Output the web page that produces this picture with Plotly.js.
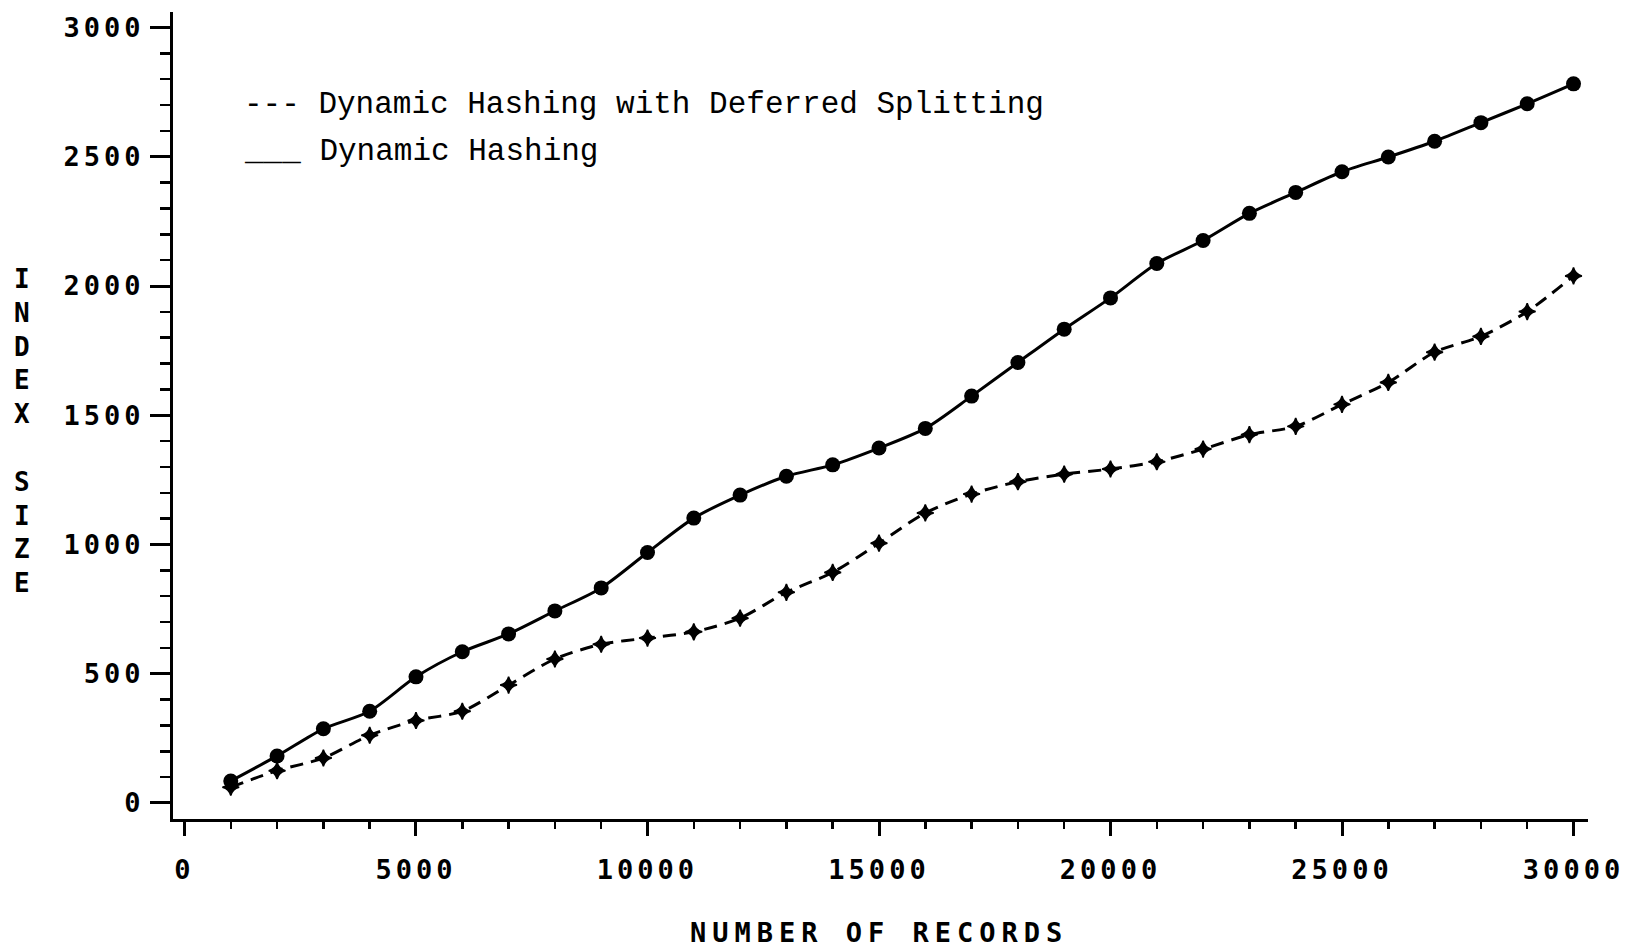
<!DOCTYPE html>
<html><head><meta charset="utf-8">
<script src="https://cdn.plot.ly/plotly-3.0.1.min.js"></script>
<style>
html,body{margin:0;padding:0;background:#fff;}
#chart{width:1636px;height:949px;}
.xtick text,.ytick text{letter-spacing:4px;}
.annotation[data-index="1"] text{letter-spacing:6px;}
</style></head><body><div id="chart"></div><script>
const records = [1000,2000,3000,4000,5000,6000,7000,8000,9000,10000,11000,12000,13000,14000,15000,16000,17000,18000,19000,20000,21000,22000,23000,24000,25000,26000,27000,28000,29000,30000];
const dynamicHashing = [85,182,287,355,488,585,654,743,832,969,1102,1191,1264,1308,1373,1449,1574,1704,1833,1954,2087,2176,2281,2362,2442,2499,2560,2632,2705,2782];
const deferredSplitting = [61,125,174,262,319,355,456,557,614,638,662,715,815,892,1005,1122,1195,1243,1272,1292,1320,1369,1425,1457,1542,1627,1744,1805,1901,2039];
const xTickVals = [0,5000,10000,15000,20000,25000,30000];
const xTickText = ['0','5000','10000','15000','20000','25000','30000'];
const yTickVals = [0,500,1000,1500,2000,2500,3000];
const yTickText = ['0','500','1000','1500','2000','2500','3000'];
const legendLabels = ['--- Dynamic Hashing with Deferred Splitting','___ Dynamic Hashing'];
const xTitle = 'NUMBER OF RECORDS';
const yTitle = 'I<br>N<br>D<br>E<br>X<br> <br>S<br>I<br>Z<br>E';

const traces = [
  {x: records, y: deferredSplitting, type:'scatter', mode:'lines+markers', name:'Dynamic Hashing with Deferred Splitting',
   line:{color:'#000', width:3, dash:'13px,8px', shape:'spline', smoothing:0.8},
   marker:{symbol:'star-diamond', size:12, color:'#000', line:{color:'#000', width:1.5}}},
  {x: records, y: dynamicHashing, type:'scatter', mode:'lines+markers', name:'Dynamic Hashing',
   line:{color:'#000', width:3, shape:'spline', smoothing:0.8},
   marker:{symbol:'circle', size:15, color:'#000'}}
];

const L=173, R=1588, T=12, B=819;
const W=R-L, H=B-T;
const px = v => (v-L)/W;
const py = v => (B-v)/H;
const tickFont = {family:'DejaVu Sans Mono', size:27, color:'#000', weight:'bold'};

const layout = {
  width:1636, height:949,
  paper_bgcolor:'#fff', plot_bgcolor:'#fff',
  margin:{l:L, r:1636-R, t:T, b:949-B},
  showlegend:false,
  xaxis:{range:[-248,30313], showgrid:false, zeroline:false, showline:true, linecolor:'#000', linewidth:3,
    tickmode:'array', tickvals:xTickVals, ticktext:xTickText, ticks:'outside', ticklen:14, tickwidth:3, tickcolor:'#000',
    tickfont:tickFont, ticklabelstandoff:11,
    minor:{dtick:1000, tick0:0, ticks:'outside', ticklen:7, tickwidth:2.5, tickcolor:'#000', showgrid:false}},
  yaxis:{range:[-62,3060], showgrid:false, zeroline:false, showline:true, linecolor:'#000', linewidth:3,
    tickmode:'array', tickvals:yTickVals, ticktext:yTickText, ticks:'outside', ticklen:20, tickwidth:3, tickcolor:'#000',
    tickfont:tickFont, ticklabelstandoff:0,
    minor:{dtick:100, tick0:0, ticks:'outside', ticklen:10, tickwidth:2.5, tickcolor:'#000', showgrid:false}},
  annotations:[
    {xref:'paper', yref:'paper', x:px(22), y:py(431), xanchor:'center', yanchor:'middle', showarrow:false,
     text:yTitle, font:{family:'DejaVu Sans Mono', size:26, color:'#000', weight:'bold'}},
    {xref:'paper', yref:'paper', x:px(879), y:py(932), xanchor:'center', yanchor:'middle', showarrow:false,
     text:xTitle, font:{family:'DejaVu Sans Mono', size:27, color:'#000', weight:'bold'}},
    {xref:'paper', yref:'paper', x:px(242), y:py(104), xanchor:'left', yanchor:'middle', showarrow:false,
     text:legendLabels[0], font:{family:'Liberation Mono', size:31, color:'#000'}},
    {xref:'paper', yref:'paper', x:px(242), y:py(151), xanchor:'left', yanchor:'middle', showarrow:false,
     text:legendLabels[1], font:{family:'Liberation Mono', size:31, color:'#000'}}
  ]
};
Plotly.newPlot('chart', traces, layout, {displayModeBar:false, staticPlot:true});
</script></body></html>
